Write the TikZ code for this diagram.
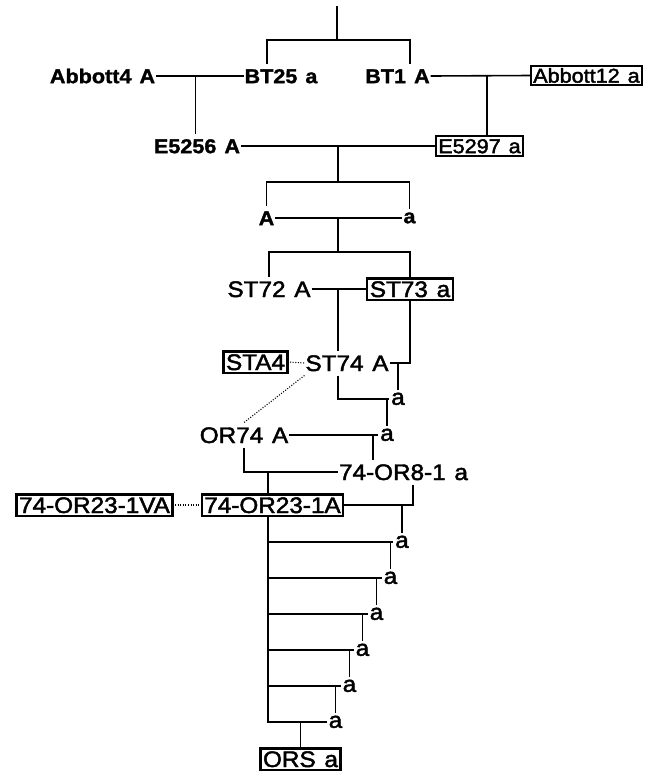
\documentclass[tikz,border=0pt]{standalone}
\usepackage{fontspec}
\setmainfont{Liberation Sans}[FakeStretch=1.08, UprightFeatures={FakeBold=2}, BoldFeatures={FakeBold=1.4}]
\usetikzlibrary{calc}
\newcommand\wsp{\ \kern2pt}
\tikzset{
  tb/.style={font=\fontsize{20}{23}\selectfont\bfseries, text height=14.3pt, text depth=0pt, inner xsep=1pt, inner ysep=4.5pt, outer sep=0pt},
  tbl/.style={font=\fontsize{20}{23}\selectfont\bfseries, text height=10.4pt, text depth=0pt, inner xsep=1.5pt, inner ysep=4pt, outer sep=0pt},
  trs/.style={font=\fontsize{20}{23}\selectfont, text height=14.3pt, text depth=0pt, inner xsep=1pt, inner ysep=5pt, outer sep=0pt},
  tr/.style={font=\fontsize{22.5}{25}\selectfont, text height=16pt, text depth=0pt, inner xsep=1pt, inner ysep=4.5pt, outer sep=0pt},
  trl/.style={font=\fontsize{22.5}{25}\selectfont, text height=11.6pt, text depth=0pt, inner xsep=2pt, inner ysep=3pt, outer sep=0pt},
  bx/.style={draw, line width=2.2pt, inner xsep=2.5pt, inner ysep=2.6pt},
  dots/.style={line width=1.1pt, dash pattern=on 1pt off 1.6pt},
}
\begin{document}
\begin{tikzpicture}[x=1pt,y=-1pt,line width=1.6pt]
\useasboundingbox (0,0) rectangle (659,774);
% nodes
\node[tb] (abA) at (102.5,76) {Abbott4\wsp A};
\node[tb] (bt25) at (281,76) {BT25\wsp a};
\node[tb] (bt1) at (397.5,76) {BT1\wsp A};
\node[trs,bx] (ab12) at (586.5,75.5) {Abbott12\wsp a};
\node[tb] (e5256) at (197,146) {E5256\wsp A};
\node[trs,bx] (e5297) at (479.5,146) {E5297\wsp a};
\node[tb] (A0) at (266.5,218) {A};
\node[tbl] (a0) at (409.5,218) {a};
\node[tr] (st72) at (269,289) {ST72\wsp A};
\node[tr,bx] (st73) at (410,289) {ST73\wsp a};
\node[tr,bx] (sta4) at (255.5,362) {STA4};
\node[tr] (st74) at (347,363) {ST74\wsp A};
\node[trl] (a1) at (398,399) {a};
\node[tr] (or74) at (244,435) {OR74\wsp A};
\node[trl] (a2) at (387,435) {a};
\node[tr] (or8) at (403.5,472) {74-OR8-1\wsp a};
\node[tr,bx] (v1va) at (94.5,505) {74-OR23-1VA};
\node[tr,bx] (v1a) at (272.5,505) {74-OR23-1A};
\node[trl] (a3) at (402,542) {a};
\node[trl] (a4) at (390.5,578) {a};
\node[trl] (a5) at (376.5,614) {a};
\node[trl] (a6) at (362.5,650) {a};
\node[trl] (a7) at (349.5,686) {a};
\node[trl] (a8) at (335.5,722) {a};
\node[tr,bx] (ors) at (300.5,759) {ORS\wsp a};
% junction coordinates
\coordinate (top) at (337,6);
\coordinate (j1) at (337,40);
\coordinate (c267) at (267,40);
\coordinate (c410) at (410,40);
\coordinate (b2M) at (338,182);
\coordinate (b3M) at (338,252);
\coordinate (d1) at (373,435);
\coordinate (d2) at (268,472);
\coordinate (d3) at (413,480);
% top
\draw (top) -- (j1);
\draw (bt25.north -| c267) -- (c267) -- (c410) -- (bt1.north -| c410);
\draw (abA.east) -- (bt25.west);
\path (abA.east) -- (bt25.west) coordinate[pos=0.45] (m1);
\draw (m1) -- (m1 |- e5256.north);
\draw (bt1.east) -- (ab12.west);
\path (bt1.east) -- (ab12.west) coordinate[pos=0.56] (m2);
\draw (m2) -- (m2 |- e5297.north);
\draw (e5256.east) -- (e5297.west);
\draw (e5256.east -| b2M) -- (b2M);
\draw (A0.north) |- (b2M) -| (a0.north);
\draw (A0.east) -- (a0.west);
\draw (A0.east -| b3M) -- (b3M);
\draw (st72.north) |- (b3M) -| (st73.north);
\draw (st72.east) -- (st73.west);
\draw (st72.east -| b3M) -- (st74.north -| b3M);
\draw (st73.south) |- (st74.east);
\draw (a1.north) -- (a1.north |- st74.east);
\draw (st74.south -| b3M) |- (a1.west);
\draw (a2.north) -- (a2.north |- a1.west);
\draw (or74.east) -- (a2.west);
\draw (d1) -- (d1 |- or8.north);
\draw (or74.south) |- (or8.west);
\draw (d2) -- (d2 |- v1a.north);
\draw (d3 |- or8.south) |- (v1a.east);
\draw (a3.north) -- (a3.north |- v1a.east);
% dotted links
\draw[dots] (v1va.east) -- (v1a.west);
\draw[dots] (sta4.east) -- (st74.west);
\draw[dots] (st74.south west) -- (or74.north);
% ladder
\draw (d2 |- v1a.south) |- (a8.west);
\foreach \n in {a3,a4,a5,a6,a7} \draw (d2 |- \n.west) -- (\n.west);
\draw (a4.north) -- (a4.north |- a3.west);
\draw (a5.north) -- (a5.north |- a4.west);
\draw (a6.north) -- (a6.north |- a5.west);
\draw (a7.north) -- (a7.north |- a6.west);
\draw (a8.north) -- (a8.north |- a7.west);
\draw (ors.north) -- (ors.north |- a8.west);
\end{tikzpicture}
\end{document}
